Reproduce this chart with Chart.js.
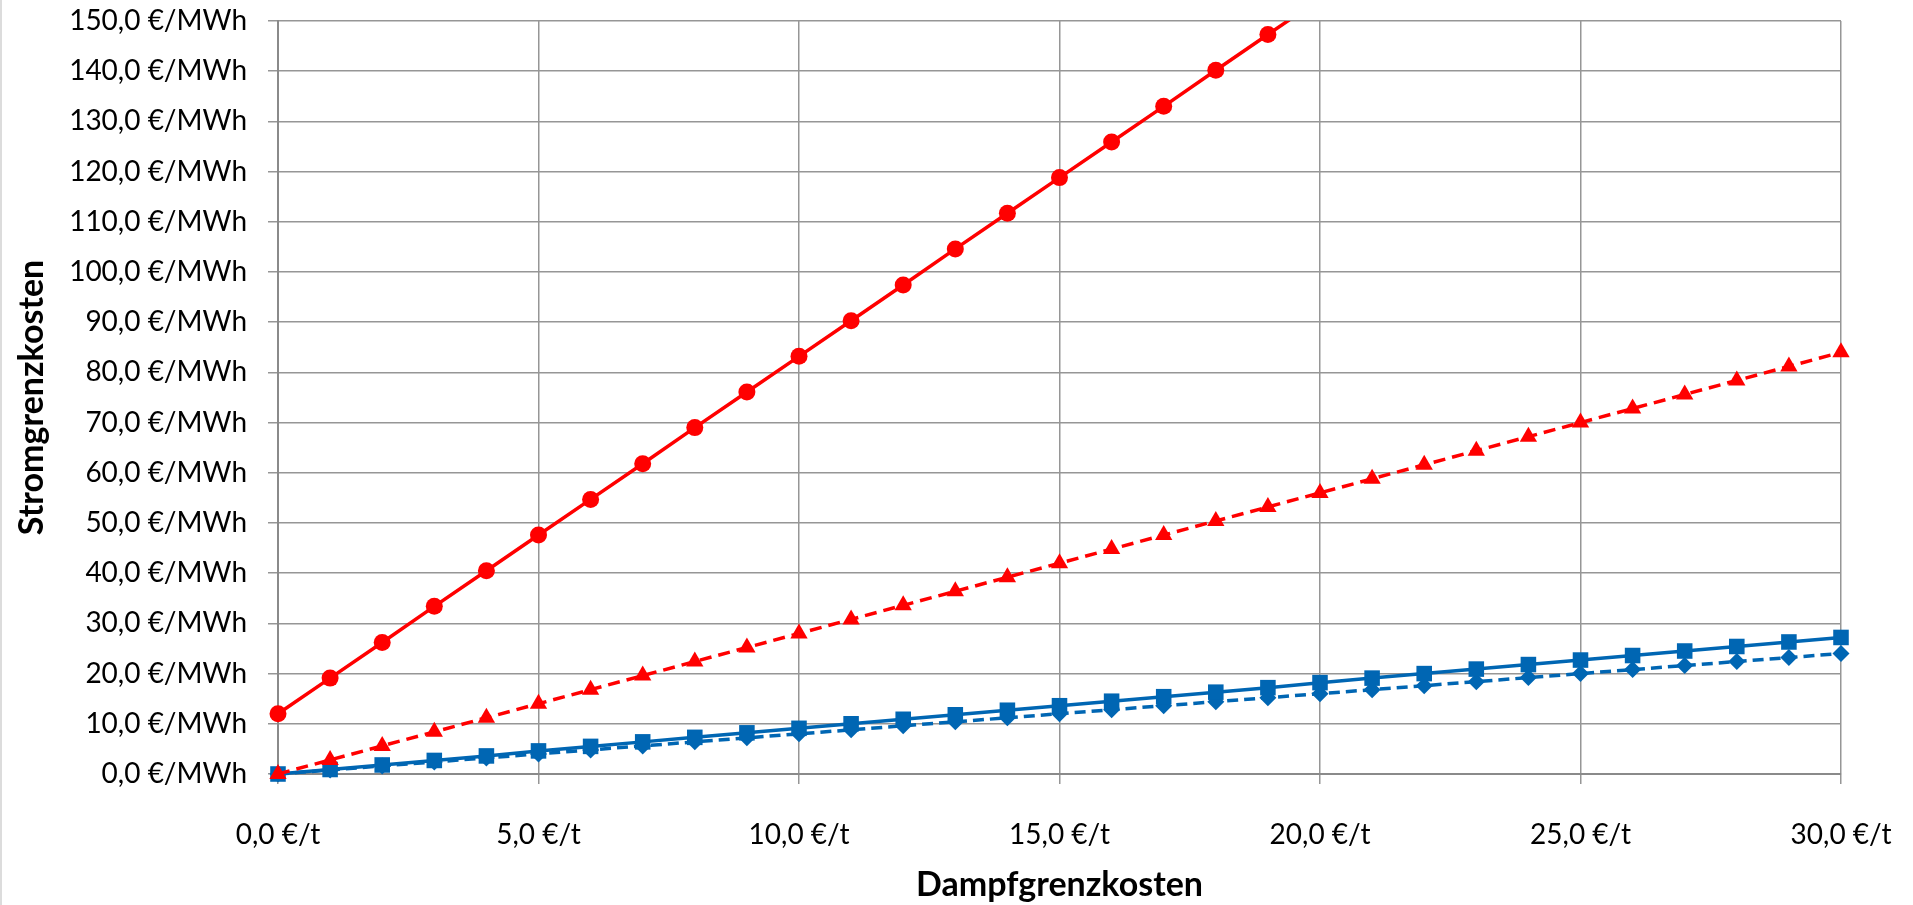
<!DOCTYPE html>
<html>
<head>
<meta charset="utf-8">
<script src="https://cdn.jsdelivr.net/npm/chart.js@4/dist/chart.umd.min.js"></script>
<style>
  html, body { margin: 0; padding: 0; background: #fff; }
  #wrap { width: 1913px; height: 905px; position: relative; }
</style>
</head>
<body>
<div id="wrap"><canvas id="c" width="1913" height="905"></canvas></div>
<script>
// Dampfgrenzkosten (€/t)
const xValues = [0,1,2,3,4,5,6,7,8,9,10,11,12,13,14,15,16,17,18,19,20,21,22,23,24,25,26,27,28,29,30];
// Series (Stromgrenzkosten, €/MWh)
const redSolid = [12.0,19.1,26.2,33.4,40.5,47.6,54.7,61.8,69.0,76.1,83.2,90.3,97.4,104.6,111.7,118.8,125.9,133.0,140.2,147.3,154.4];
const redDashed = [0.0,2.8,5.6,8.4,11.2,14.0,16.8,19.6,22.4,25.2,28.0,30.8,33.6,36.4,39.2,42.0,44.8,47.6,50.4,53.2,56.0,58.8,61.6,64.4,67.2,70.0,72.8,75.6,78.4,81.2,84.0];
const blueSolid = [0.0,0.9,1.8,2.7,3.6,4.6,5.5,6.4,7.3,8.2,9.1,10.0,10.9,11.8,12.7,13.6,14.5,15.4,16.3,17.2,18.2,19.1,20.0,20.9,21.8,22.7,23.6,24.5,25.4,26.3,27.2];
const blueDashed = [0.0,0.8,1.6,2.4,3.2,4.0,4.8,5.6,6.4,7.2,8.0,8.8,9.6,10.4,11.2,12.0,12.8,13.6,14.4,15.2,16.0,16.8,17.6,18.4,19.2,20.0,20.8,21.6,22.4,23.2,24.0];
// Axis ranges / ticks
const xTicks = [0,5,10,15,20,25,30];
const yMin = 0, yMax = 150, yStep = 10;
const xTitle = 'Dampfgrenzkosten';
const yTitle = 'Stromgrenzkosten';

const pts = (arr) => arr.map((v, i) => ({x: xValues[i], y: v}));
const RED = '#FF0000';
const BLUE = '#0066B3';
const GRID = '#969696';
const fmt = (v) => v.toFixed(1).replace('.', ',');

const frame = {
  id: 'frame',
  beforeDraw(chart) {
    const ctx = chart.ctx;
    ctx.save();
    ctx.fillStyle = '#ffffff';
    ctx.fillRect(0, 0, chart.width, chart.height);
    ctx.strokeStyle = '#dcdcdc';
    ctx.lineWidth = 2;
    ctx.beginPath();
    ctx.moveTo(1, 0);
    ctx.lineTo(1, chart.height);
    ctx.stroke();
    ctx.restore();
  }
};

const noClip = {left: false, top: false, right: false, bottom: false};
const zeroPad = (s) => { s.paddingTop = 0; s.paddingBottom = 0; s.paddingLeft = 0; s.paddingRight = 0; };

new Chart(document.getElementById('c'), {
  type: 'scatter',
  data: {
    datasets: [
      { label: 'A', data: pts(redSolid), showLine: true, borderColor: RED, backgroundColor: RED,
        borderWidth: 3.5, pointStyle: 'circle', pointRadius: 8.5, pointBorderWidth: 0,
        clip: {left: false, top: 0, right: false, bottom: false} },
      { label: 'B', data: pts(redDashed), showLine: true, borderColor: RED, backgroundColor: RED,
        borderWidth: 3.5, borderDash: [12, 7], pointStyle: 'triangle', pointRadius: 10, pointBorderWidth: 0, clip: noClip },
      { label: 'C', data: pts(blueSolid), showLine: true, borderColor: BLUE, backgroundColor: BLUE,
        borderWidth: 3.5, pointStyle: 'rect', pointRadius: 11, pointBorderWidth: 0, clip: noClip },
      { label: 'D', data: pts(blueDashed), showLine: true, borderColor: BLUE, backgroundColor: BLUE,
        borderWidth: 3.5, borderDash: [11, 6], pointStyle: 'rectRot', pointRadius: 8.5, pointBorderWidth: 0, clip: noClip }
    ]
  },
  options: {
    responsive: false,
    animation: false,
    devicePixelRatio: 1,
    layout: { autoPadding: false, padding: { left: 0, top: 21, right: 72, bottom: 0 } },
    plugins: { legend: { display: false }, tooltip: { enabled: false } },
    scales: {
      x: {
        type: 'linear', min: xTicks[0], max: xTicks[xTicks.length - 1],
        afterBuildTicks: (s) => { s.ticks = xTicks.map(v => ({value: v})); },
        afterFit: (s) => { s.height = 131; zeroPad(s); },
        grid: { color: GRID, lineWidth: 1.5, tickLength: 10, drawTicks: true, tickColor: GRID },
        border: { color: '#8a8a8a', width: 2 },
        ticks: { color: '#000', font: { family: 'Lato', size: 28 }, padding: 34, maxRotation: 0,
                 callback: (v) => fmt(v) + ' €/t' },
        title: { display: true, text: xTitle, color: '#000', font: { family: 'Lato', size: 34, weight: 'bold' },
                 padding: { top: 0, bottom: 0 } }
      },
      y: {
        type: 'linear', min: yMin, max: yMax,
        ticks: { stepSize: yStep, color: '#000', font: { family: 'Lato', size: 28 }, padding: 21,
                 callback: (v) => fmt(v) + ' €/MWh' },
        afterFit: (s) => { s.width = 278; zeroPad(s); },
        grid: { color: GRID, lineWidth: 1.5, tickLength: 10, drawTicks: true, tickColor: GRID },
        border: { color: '#8a8a8a', width: 2 },
        title: { display: true, text: yTitle, color: '#000', font: { family: 'Lato', size: 34, weight: 'bold' },
                 padding: { top: 12, bottom: 0 } }
      }
    }
  },
  plugins: [frame]
});
</script>
</body>
</html>
